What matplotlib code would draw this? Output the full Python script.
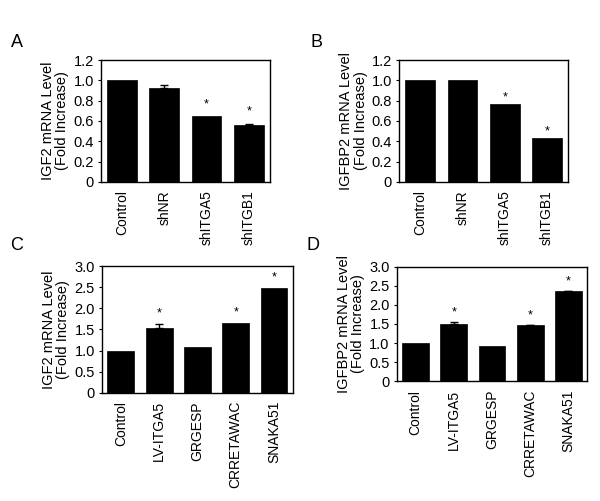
import matplotlib
matplotlib.use("Agg")
import matplotlib.pyplot as plt
import numpy as np

plt.rcParams['font.family'] = ['Liberation Sans', 'DejaVu Sans']

cats_top = ["Control", "shNR", "shITGA5", "shITGB1"]
igf2_kd = [1.0, 0.925, 0.645, 0.565]
igf2_kd_err = [0.0, 0.025, 0.0, 0.01]
igf2_kd_sig = [False, False, True, True]

igfbp2_kd = [1.0, 1.0, 0.765, 0.43]
igfbp2_kd_err = [0.0, 0.0, 0.0, 0.0]
igfbp2_kd_sig = [False, False, True, True]

cats_bot = ["Control", "LV-ITGA5", "GRGESP", "CRRETAWAC", "SNAKA51"]
igf2_ox = [1.0, 1.525, 1.075, 1.66, 2.47]
igf2_ox_err = [0.0, 0.095, 0.0, 0.0, 0.0]
igf2_ox_sig = [False, True, False, True, True]

igfbp2_ox = [1.0, 1.51, 0.91, 1.46, 2.35]
igfbp2_ox_err = [0.0, 0.03, 0.0, 0.02, 0.02]
igfbp2_ox_sig = [False, True, False, True, True]

yticks_top = [0, 0.2, 0.4, 0.6, 0.8, 1.0, 1.2]
ytl_top = ["0", "0.2", "0.4", "0.6", "0.8", "1.0", "1.2"]
yticks_bot = [0, 0.5, 1.0, 1.5, 2.0, 2.5, 3.0]
ytl_bot = ["0", "0.5", "1.0", "1.5", "2.0", "2.5", "3.0"]

fig = plt.figure(figsize=(6.0, 5.01), dpi=100)

panels = [
    ("A", [0.168, 0.637, 0.282, 0.243], cats_top, igf2_kd, igf2_kd_err, igf2_kd_sig,
     yticks_top, ytl_top, 1.2, "IGF2 mRNA Level\n(Fold Increase)", 0.12, (0.028, 0.915)),
    ("B", [0.665, 0.637, 0.282, 0.243], cats_top, igfbp2_kd, igfbp2_kd_err, igfbp2_kd_sig,
     yticks_top, ytl_top, 1.2, "IGFBP2 mRNA Level\n(Fold Increase)", 0.07, (0.528, 0.915)),
    ("C", [0.1695, 0.216, 0.319, 0.253], cats_bot, igf2_ox, igf2_ox_err, igf2_ox_sig,
     yticks_bot, ytl_bot, 3.0, "IGF2 mRNA Level\n(Fold Increase)", 0.25, (0.028, 0.51)),
    ("D", [0.661, 0.239, 0.318, 0.229], cats_bot, igfbp2_ox, igfbp2_ox_err, igfbp2_ox_sig,
     yticks_bot, ytl_bot, 3.0, "IGFBP2 mRNA Level\n(Fold Increase)", 0.25, (0.522, 0.51)),
]

for letter, rect, cats, vals, errs, sig, yt, ytl, ymax, ylab, soff, lpos in panels:
    ax = fig.add_axes(rect)
    x = np.arange(len(cats))
    ax.bar(x, vals, width=0.7, color="black", edgecolor="black", linewidth=0.5)
    for xi, v, e, s in zip(x, vals, errs, sig):
        if e > 0:
            ax.errorbar(xi, v, yerr=[[0], [e]], color="black", capsize=3,
                        elinewidth=1, capthick=1, fmt="none")
        if s:
            ax.text(xi, v + e + soff, "*", ha="center", va="center", fontsize=9)
    ax.set_xlim(-0.5, len(cats) - 0.5)
    ax.set_ylim(0, ymax)
    ax.set_yticks(yt)
    ax.set_yticklabels(ytl, fontsize=10.5)
    ax.set_xticks(x)
    ax.set_xticklabels(cats, rotation=90, fontsize=10)
    ax.tick_params(axis="x", length=0, pad=6)
    ax.tick_params(axis="y", length=2, width=0.8, direction="out", pad=3)
    for sp in ax.spines.values():
        sp.set_linewidth(1.0)
        sp.set_color("black")
    ax.set_ylabel(ylab, fontsize=10.5, linespacing=1.05, labelpad=3)
    fig.text(lpos[0], lpos[1], letter, fontsize=13, ha="center", va="center")

fig.savefig("out.png", dpi=100)
